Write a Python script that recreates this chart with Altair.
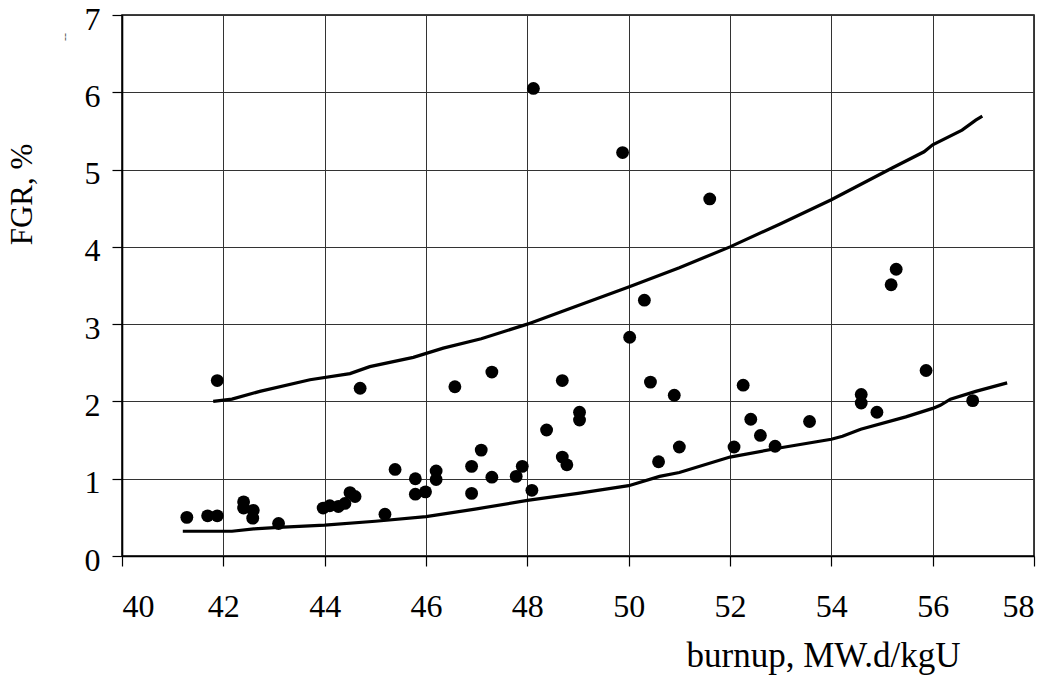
import altair as alt
import pandas as pd

# Measured fission gas release vs. burnup
burnup = [41.28, 41.69, 41.88, 41.88, 42.40, 42.40, 42.59, 42.58, 43.09, 43.97,
          44.10, 44.27, 44.40, 44.50, 44.60, 44.70, 45.19, 45.39, 45.79, 45.79,
          45.99, 46.20, 46.20, 46.57, 46.90, 46.90, 47.09, 47.30, 47.30, 47.78,
          47.90, 48.09, 48.12, 48.38, 48.69, 48.69, 48.78, 49.03, 49.03, 49.88,
          50.02, 50.31, 50.43, 50.59, 50.90, 51.00, 51.60, 52.08, 52.26, 52.41,
          52.60, 52.89, 53.57, 54.59, 54.59, 54.90, 55.18, 55.28, 55.87, 56.79]
fgr = [0.50, 0.52, 0.52, 2.27, 0.70, 0.62, 0.59, 0.49, 0.42, 0.62,
       0.65, 0.64, 0.68, 0.82, 0.77, 2.17, 0.54, 1.12, 1.00, 0.80,
       0.83, 1.10, 0.99, 2.19, 1.16, 0.81, 1.37, 2.38, 1.02, 1.03,
       1.16, 0.85, 6.05, 1.63, 2.27, 1.28, 1.18, 1.86, 1.76, 5.22,
       2.83, 3.31, 2.25, 1.22, 2.08, 1.41, 4.62, 1.41, 2.21, 1.77,
       1.56, 1.42, 1.74, 2.09, 1.98, 1.86, 3.51, 3.71, 2.40, 2.01]

# Upper bound curve
upper_x = [41.80, 42.17, 42.72, 43.71, 44.50, 44.89, 45.75, 46.34, 47.09, 48.00,
           48.83, 50.00, 51.00, 52.00, 53.00, 54.00, 55.20, 55.83, 56.00, 56.58,
           56.85, 56.98]
upper_y = [2.00, 2.03, 2.13, 2.28, 2.36, 2.45, 2.57, 2.69, 2.81, 3.00,
           3.20, 3.48, 3.73, 4.00, 4.30, 4.61, 5.02, 5.23, 5.32, 5.51,
           5.64, 5.69]

# Lower bound curve
lower_x = [41.20, 42.17, 42.60, 43.09, 44.00, 45.00, 46.00, 47.00, 48.00, 49.00,
           50.00, 50.61, 51.00, 52.00, 53.00, 54.00, 54.22, 54.58, 55.47, 56.00,
           56.15, 56.35, 56.85, 57.47]
lower_y = [0.32, 0.32, 0.35, 0.37, 0.40, 0.45, 0.51, 0.61, 0.72, 0.81,
           0.91, 1.03, 1.08, 1.28, 1.40, 1.51, 1.55, 1.64, 1.80, 1.91,
           1.95, 2.03, 2.13, 2.24]

x_ticks = list(range(40, 59, 2))
y_ticks = list(range(0, 8))

pts = pd.DataFrame({"burnup": burnup, "fgr": fgr})
up = pd.DataFrame({"burnup": upper_x, "fgr": upper_y, "i": range(len(upper_x))})
lo = pd.DataFrame({"burnup": lower_x, "fgr": lower_y, "i": range(len(lower_x))})

FONT = "Liberation Serif"

x_scale = alt.Scale(domain=[40, 58], nice=False, zero=False)
y_scale = alt.Scale(domain=[0, 7], nice=False)

x_axis = alt.Axis(
    values=x_ticks, format="d", title="burnup, MW.d/kgU", grid=True,
    gridColor="#333333", gridWidth=1,
    domainColor="black", domainWidth=1.6,
    tickColor="black", tickSize=10, tickWidth=1.2,
    labelFont=FONT, labelFontSize=32, labelColor="black", labelPadding=25,
    titleFont=FONT, titleFontSize=35, titleFontWeight="normal", titleColor="black",
    titleX=701, titleY=110, titleAlign="center", titleBaseline="alphabetic",
)
y_axis = alt.Axis(
    values=y_ticks, format="d", title="FGR, %", grid=True,
    gridColor="#333333", gridWidth=1,
    domainColor="black", domainWidth=1.6,
    tickColor="black", tickSize=10, tickWidth=1.2,
    labelFont=FONT, labelFontSize=32, labelColor="black", labelPadding=12,
    labelOffset=4,
    titleFont=FONT, titleFontSize=31, titleFontWeight="normal", titleColor="black",
    titleX=-100, titleY=179, titleAlign="center", titleBaseline="middle", titleAngle=270,
)

points = alt.Chart(pts).mark_circle(size=165, color="black", opacity=1).encode(
    x=alt.X("burnup:Q", scale=x_scale, axis=x_axis),
    y=alt.Y("fgr:Q", scale=y_scale, axis=y_axis),
)

upper = alt.Chart(up).mark_line(color="black", strokeWidth=3.2).encode(
    x=alt.X("burnup:Q", scale=x_scale),
    y=alt.Y("fgr:Q", scale=y_scale),
    order="i:Q",
)

lower = alt.Chart(lo).mark_line(color="black", strokeWidth=3.2).encode(
    x=alt.X("burnup:Q", scale=x_scale),
    y=alt.Y("fgr:Q", scale=y_scale),
    order="i:Q",
)

# small stray dash mark beside the y axis
stray = alt.Chart(pd.DataFrame({"t": ["--"]})).mark_text(
    font=FONT, fontSize=12, angle=270, color="#555555"
).encode(text="t:N", x=alt.value(-57), y=alt.value(22))

chart = alt.layer(upper, lower, points, stray).properties(
    width=912, height=541,
    padding={"left": 122, "top": 15, "right": 21, "bottom": 119},
    autosize=alt.AutoSizeParams(type="none"),
    background="white",
).configure_view(stroke="black", strokeWidth=1.5)

chart.save("out.html", embed_options={"renderer": "svg", "actions": False})
